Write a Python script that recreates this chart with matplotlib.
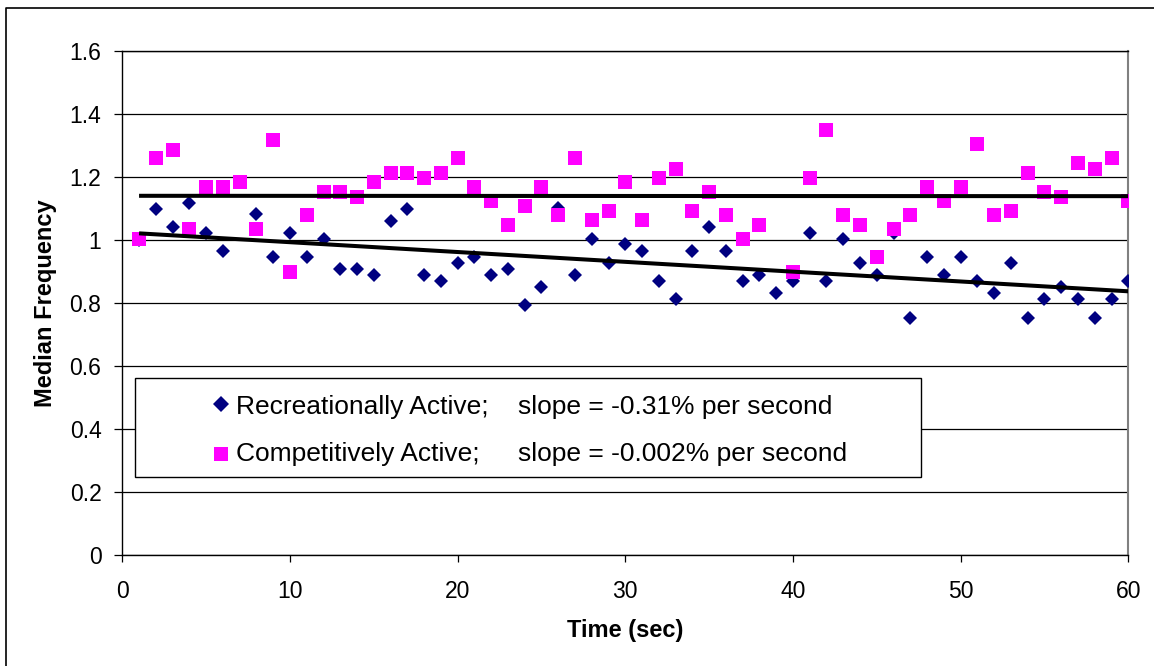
import numpy as np
import matplotlib
matplotlib.use("Agg")
import matplotlib.pyplot as plt
from matplotlib.lines import Line2D
from matplotlib.patches import Rectangle

plt.rcParams['font.family'] = ['Liberation Sans', 'DejaVu Sans']

# Median frequency per second of the test (NaN = no value recorded)
time_sec = list(range(1, 61))
recreational = [1.000, 1.097, 1.041, 1.117, 1.022, 0.964, np.nan, 1.081, 0.946, 1.022,
                0.946, 1.002, 0.907, 0.907, 0.888, 1.059, 1.097, 0.888, 0.869, 0.927,
                0.946, 0.888, 0.907, 0.793, 0.849, 1.100, 0.888, 1.002, 0.927, 0.986,
                0.965, 0.869, 0.812, 0.965, 1.041, 0.965, 0.869, 0.888, 0.830, 0.869,
                1.022, 0.869, 1.002, 0.927, 0.888, 1.022, 0.753, 0.946, 0.888, 0.946,
                0.869, 0.830, 0.927, 0.753, 0.812, 0.849, 0.812, 0.753, 0.812, 0.869]
competitive = [1.002, 1.258, 1.285, 1.034, 1.168, 1.168, 1.182, 1.034, 1.316, 0.898,
               1.078, 1.152, 1.152, 1.137, 1.182, 1.213, 1.213, 1.197, 1.213, 1.258,
               1.168, 1.123, 1.047, 1.108, 1.168, 1.078, 1.258, 1.062, 1.092, 1.182,
               1.062, 1.197, 1.226, 1.092, 1.152, 1.078, 1.002, 1.047, np.nan, 0.898,
               1.197, 1.348, 1.078, 1.047, 0.944, 1.034, 1.078, 1.168, 1.123, 1.168,
               1.303, 1.078, 1.092, 1.213, 1.152, 1.137, 1.242, 1.226, 1.258, 1.123]
group_names = ["Recreationally Active;", "Competitively Active;"]
slope_texts = ["slope = -0.31% per second", "slope = -0.002% per second"]
x_ticks = [0, 10, 20, 30, 40, 50, 60]
y_ticks = [0, 0.2, 0.4, 0.6, 0.8, 1.0, 1.2, 1.4, 1.6]
y_tick_labels = ["0", "0.2", "0.4", "0.6", "0.8", "1", "1.2", "1.4", "1.6"]

W, H = 1154, 666
DPI = 100
fig = plt.figure(figsize=(W / DPI, H / DPI), dpi=DPI)

def fx(px):
    return px / W

def fy(py):
    return 1 - py / H

# plot area in pixel terms
left, right, top, bottom = 122.3, 1128.3, 50.7, 554.7
ax = fig.add_axes([fx(left), fy(bottom), fx(right - left), (bottom - top) / H])

navy = "#000080"
magenta = "#FF00FF"
TICK_FS = 16.5
LABEL_FS = 17
LEGEND_FS = 19

t = np.array(time_sec, dtype=float)
rec = np.array(recreational, dtype=float)
comp = np.array(competitive, dtype=float)

ax.plot(t, rec, linestyle="none", marker="D", markersize=7.4, markeredgewidth=0,
        color=navy, zorder=3)
ax.plot(t, comp, linestyle="none", marker="s", markersize=10.4, markeredgewidth=0,
        color=magenta, zorder=4)

# linear trend lines
for series in (rec, comp):
    ok = ~np.isnan(series)
    slope, intercept = np.polyfit(t[ok], series[ok], 1)
    xs = np.array([t[0], t[-1]])
    ax.plot(xs, slope * xs + intercept, color="black", linewidth=2.9,
            solid_capstyle="butt", zorder=5)

ax.set_xlim(0, 60)
ax.set_ylim(0, 1.6)
ax.set_xticks(x_ticks)
ax.set_yticks(y_ticks)
ax.set_yticklabels(y_tick_labels)
ax.grid(axis="y", color="black", linewidth=0.9, zorder=0)
ax.set_axisbelow(True)
ax.tick_params(axis="x", direction="out", length=5, width=0.9, pad=13,
               labelsize=TICK_FS, colors="black")
ax.tick_params(axis="y", direction="out", length=6, width=0.9, pad=9,
               labelsize=TICK_FS, colors="black")
for side in ("left", "bottom", "top"):
    ax.spines[side].set_color("black")
    ax.spines[side].set_linewidth(1.0)
ax.spines["right"].set_color("#808080")
ax.spines["right"].set_linewidth(1.5)

ax.set_xlabel("Time (sec)", fontsize=LABEL_FS, fontweight="bold", labelpad=12)
ax.set_ylabel("Median Frequency", fontsize=LABEL_FS, fontweight="bold", labelpad=9)

# legend box
lg_l, lg_r, lg_t, lg_b = 135, 921, 378, 477
fig.patches.append(Rectangle((fx(lg_l), fy(lg_b)), fx(lg_r - lg_l), (lg_b - lg_t) / H,
                             transform=fig.transFigure, facecolor="white",
                             edgecolor="black", linewidth=1.0, zorder=10))
marker_rows = [404, 454]
text_baselines = [414, 461]
markers = [("D", navy, 8.0), ("s", magenta, 10.6)]
for (mk, col, ms), my, by, name, stext in zip(markers, marker_rows, text_baselines,
                                              group_names, slope_texts):
    fig.lines.append(Line2D([fx(221)], [fy(my)], transform=fig.transFigure,
                            marker=mk, markersize=ms, markeredgewidth=0,
                            color=col, linestyle="none", zorder=11))
    fig.text(fx(236), fy(by), name, fontsize=LEGEND_FS, va="baseline", ha="left",
             zorder=11)
    fig.text(fx(518), fy(by), stext, fontsize=LEGEND_FS, va="baseline", ha="left",
             zorder=11)

# outer chart frame
fig.lines.append(Line2D([fx(5.5), fx(5.5), 1.0], [0.0, fy(8), fy(8)],
                        transform=fig.transFigure, color="black", linewidth=1.2))

fig.savefig("out.png", dpi=DPI)
